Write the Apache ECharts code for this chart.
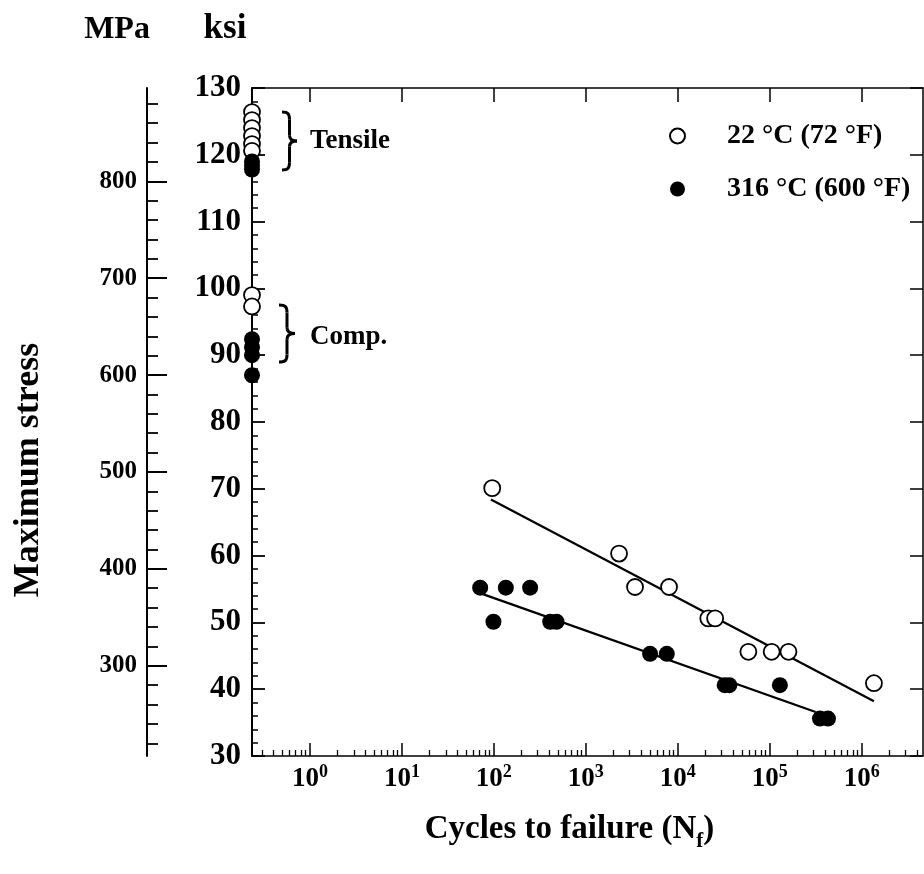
<!DOCTYPE html>
<html>
<head>
<meta charset="utf-8">
<script src="https://cdn.jsdelivr.net/npm/echarts@6/dist/echarts.min.js"></script>
<style>
  html, body { margin: 0; padding: 0; background: #ffffff; }
  #chart { width: 924px; height: 874px; }
</style>
</head>
<body>
<div id="chart"></div>
<script>
// Fatigue (S-N) data: maximum stress in ksi against cycles to failure.
const KSI_TO_MPA = 6.894757;

// Cycle axis range (log scale)
const cycleMin = Math.pow(10, -0.63);
const cycleMax = Math.pow(10, 6.667);
const cycleDecades = [1, 10, 100, 1e3, 1e4, 1e5, 1e6];

// Stress axis ranges
const ksiMin = 30;
const ksiMax = 130;
const mpaLabels = [300, 400, 500, 600, 700, 800];
const mpaMinor = [220, 240, 260, 280, 320, 340, 360, 380, 420, 440, 460, 480,
                  520, 540, 560, 580, 620, 640, 660, 680, 720, 740, 760, 780,
                  820, 840, 860, 880];

// 22 °C fatigue tests
const cycles22 = [96, 2300, 3430, 8040, 21500, 25500, 58600, 105000, 160000, 1360000];
const stress22 = [70.1, 60.3, 55.3, 55.3, 50.6, 50.6, 45.6, 45.6, 45.6, 40.9];
// 22 °C monotonic tests (plotted on the stress axis)
const tensile22 = [126.4, 125.2, 124.0, 122.8, 121.6, 120.6];
const comp22 = [99.0, 97.3];

// 316 °C fatigue tests
const cycles316 = [71, 135, 248, 99, 410, 480, 5000, 7600, 32400, 36400, 129000, 352000, 430000];
const stress316 = [55.2, 55.2, 55.2, 50.1, 50.1, 50.1, 45.3, 45.3, 40.6, 40.6, 40.6, 35.6, 35.6];
// 316 °C monotonic tests
const tensile316 = [119.0, 118.4, 117.8];
const comp316 = [92.4, 91.2, 90.0, 87.0];

// Fitted life lines (end points)
const fit22Cycles = [93, 1360000];
const fit22Stress = [68.4, 38.2];
const fit316Cycles = [72, 316000];
const fit316Stress = [54.35, 36.6];

// Minor log ticks: 2..9 within each decade
const cycleMinor = [];
for (let e = -1; e <= 6; e++) {
  for (let m = 2; m <= 9; m++) {
    const v = m * Math.pow(10, e);
    if (v > cycleMin && v < cycleMax) cycleMinor.push(v);
  }
}

const pairs = (xs, ys) => xs.map((x, i) => [x, ys[i]]);
const onAxis = ys => ys.map(y => [cycleMin, y]);

const serif = 'Liberation Serif';
const black = '#000000';

const data22 = pairs(cycles22, stress22).concat(onAxis(tensile22), onAxis(comp22));
const data316 = pairs(cycles316, stress316).concat(onAxis(tensile316), onAxis(comp316));

// Right-facing curly brace built from bezier curves and straight strokes
function brace(x, y, w, h) {
  const X = u => x + u * w / 12;
  const Y = v => y + v * h / 60;
  const st = { stroke: black, lineWidth: 3, fill: null };
  const curve = (a, b, c, d) => ({
    type: 'bezierCurve', silent: true,
    shape: { x1: X(a[0]), y1: Y(a[1]), cpx1: X(b[0]), cpy1: Y(b[1]), cpx2: X(c[0]), cpy2: Y(c[1]), x2: X(d[0]), y2: Y(d[1]) },
    style: st
  });
  const seg = (a, b) => ({
    type: 'line', silent: true,
    shape: { x1: X(a[0]), y1: Y(a[1]), x2: X(b[0]), y2: Y(b[1]) },
    style: st
  });
  return [
    curve([0, 0], [5, 0], [6, 2], [6, 8]),
    seg([6, 8], [6, 24]),
    curve([6, 24], [6, 28], [8, 30], [12, 30]),
    curve([12, 30], [8, 30], [6, 32], [6, 36]),
    seg([6, 36], [6, 52]),
    curve([6, 52], [6, 58], [5, 60], [0, 60])
  ];
}

const chart = echarts.init(document.getElementById('chart'), null, { renderer: 'canvas' });

chart.setOption({
  animation: false,
  backgroundColor: '#ffffff',
  grid: { left: 252, top: 88, right: 1, bottom: 118, containLabel: false, outerBoundsMode: 'none' },
  legend: {
    orient: 'vertical',
    left: 664,
    top: 117,
    padding: 5,
    itemWidth: 15,
    itemHeight: 15,
    itemGap: 25,
    selectedMode: false,
    textStyle: { fontFamily: serif, fontWeight: 'bold', fontSize: 28, color: black, padding: [0, 0, 0, 37] },
    data: ['22 °C (72 °F)', '316 °C (600 °F)']
  },
  xAxis: [
    {
      type: 'log', logBase: 10, min: cycleMin, max: cycleMax, position: 'bottom',
      axisLine: { show: true, lineStyle: { color: black, width: 1.5 } },
      axisTick: { show: true, inside: true, length: 13, customValues: cycleDecades, lineStyle: { color: black, width: 1.5 } },
      minorTick: { show: false },
      splitLine: { show: false },
      axisLabel: {
        show: true, margin: 7, customValues: cycleDecades,
        formatter: v => '{b|10}{s|' + Math.round(Math.log10(v)) + '}',
        rich: {
          b: { fontFamily: serif, fontWeight: 'bold', fontSize: 27, color: black, lineHeight: 30, verticalAlign: 'bottom' },
          s: { fontFamily: serif, fontWeight: 'bold', fontSize: 18, color: black, lineHeight: 18, verticalAlign: 'top' }
        }
      },
      name: 'Cycles to failure (N{sub|f})',
      nameLocation: 'middle',
      nameGap: 50,
      nameTextStyle: {
        fontFamily: serif, fontWeight: 'bold', fontSize: 33, color: black, padding: [0, 36, 0, 0],
        rich: { sub: { fontFamily: serif, fontWeight: 'bold', fontSize: 21, color: black, verticalAlign: 'bottom', lineHeight: 46 } }
      }
    },
    {
      type: 'log', logBase: 10, min: cycleMin, max: cycleMax, position: 'bottom',
      axisLine: { show: false },
      axisTick: { show: true, inside: true, length: 6, customValues: cycleMinor, lineStyle: { color: black, width: 1.3 } },
      axisLabel: { show: false },
      splitLine: { show: false }
    },
    {
      type: 'log', logBase: 10, min: cycleMin, max: cycleMax, position: 'top',
      axisLine: { show: true, lineStyle: { color: black, width: 1.5 } },
      axisTick: { show: true, inside: true, length: 14, customValues: cycleDecades, lineStyle: { color: black, width: 1.5 } },
      axisLabel: { show: false },
      splitLine: { show: false }
    }
  ],
  yAxis: [
    {
      type: 'value', min: ksiMin, max: ksiMax, interval: 10, position: 'left',
      axisLine: { show: true, lineStyle: { color: black, width: 2 } },
      axisTick: { show: true, inside: true, length: 13, lineStyle: { color: black, width: 1.8 } },
      minorTick: { show: true, splitNumber: 5, length: 6, lineStyle: { color: black, width: 1.5 } },
      splitLine: { show: false },
      axisLabel: { margin: 11, fontFamily: serif, fontWeight: 'bold', fontSize: 31, color: black }
    },
    {
      type: 'value', min: ksiMin, max: ksiMax, interval: 10, position: 'right',
      axisLine: { show: true, lineStyle: { color: black, width: 1.5 } },
      axisTick: { show: true, inside: true, length: 13, lineStyle: { color: black, width: 1.5 } },
      splitLine: { show: false },
      axisLabel: { show: false }
    },
    {
      type: 'value', min: ksiMin * KSI_TO_MPA, max: ksiMax * KSI_TO_MPA, position: 'left', offset: 105,
      axisLine: { show: true, lineStyle: { color: black, width: 2 } },
      axisTick: { show: true, inside: true, length: 20, customValues: mpaLabels, lineStyle: { color: black, width: 2 } },
      splitLine: { show: false },
      axisLabel: { margin: 10, customValues: mpaLabels, fontFamily: serif, fontWeight: 'bold', fontSize: 25, color: black }
    },
    {
      type: 'value', min: ksiMin * KSI_TO_MPA, max: ksiMax * KSI_TO_MPA, position: 'left', offset: 105,
      axisLine: { show: false },
      axisTick: { show: true, inside: true, length: 11, customValues: mpaMinor, lineStyle: { color: black, width: 1.8 } },
      splitLine: { show: false },
      axisLabel: { show: false }
    }
  ],
  graphic: [
    { type: 'text', x: 117, y: 30, style: { text: 'MPa', font: 'bold 32px "Liberation Serif"', fill: black, align: 'center', verticalAlign: 'middle' } },
    { type: 'text', x: 225, y: 29, style: { text: 'ksi', font: 'bold 35px "Liberation Serif"', fill: black, align: 'center', verticalAlign: 'middle' } },
    { type: 'text', x: 29, y: 470, rotation: Math.PI / 2,
      style: { text: 'Maximum stress', font: 'bold 36px "Liberation Serif"', fill: black, align: 'center', verticalAlign: 'middle' } },
    { type: 'text', x: 310, y: 141, style: { text: 'Tensile', font: 'bold 27px "Liberation Serif"', fill: black, verticalAlign: 'middle' } },
    { type: 'text', x: 310, y: 337, style: { text: 'Comp.', font: 'bold 27px "Liberation Serif"', fill: black, verticalAlign: 'middle' } }
  ].concat(brace(282, 112, 15, 58), brace(279, 305, 16, 57)),
  series: [
    {
      type: 'line', name: 'fit22', data: pairs(fit22Cycles, fit22Stress),
      xAxisIndex: 0, yAxisIndex: 0, symbol: 'none', z: 1,
      lineStyle: { color: black, width: 2.2, opacity: 1 }
    },
    {
      type: 'line', name: 'fit316', data: pairs(fit316Cycles, fit316Stress),
      xAxisIndex: 0, yAxisIndex: 0, symbol: 'none', z: 1,
      lineStyle: { color: black, width: 2.2, opacity: 1 }
    },
    {
      type: 'scatter', name: '22 °C (72 °F)', data: data22,
      xAxisIndex: 0, yAxisIndex: 0, symbol: 'circle', symbolSize: 16, clip: false, z: 3,
      itemStyle: { color: '#ffffff', borderColor: black, borderWidth: 1.8, opacity: 1 }
    },
    {
      type: 'scatter', name: '316 °C (600 °F)', data: data316,
      xAxisIndex: 0, yAxisIndex: 0, symbol: 'circle', symbolSize: 16, clip: false, z: 3,
      itemStyle: { color: black, borderColor: black, borderWidth: 0, opacity: 1 }
    }
  ]
});
</script>
</body>
</html>
